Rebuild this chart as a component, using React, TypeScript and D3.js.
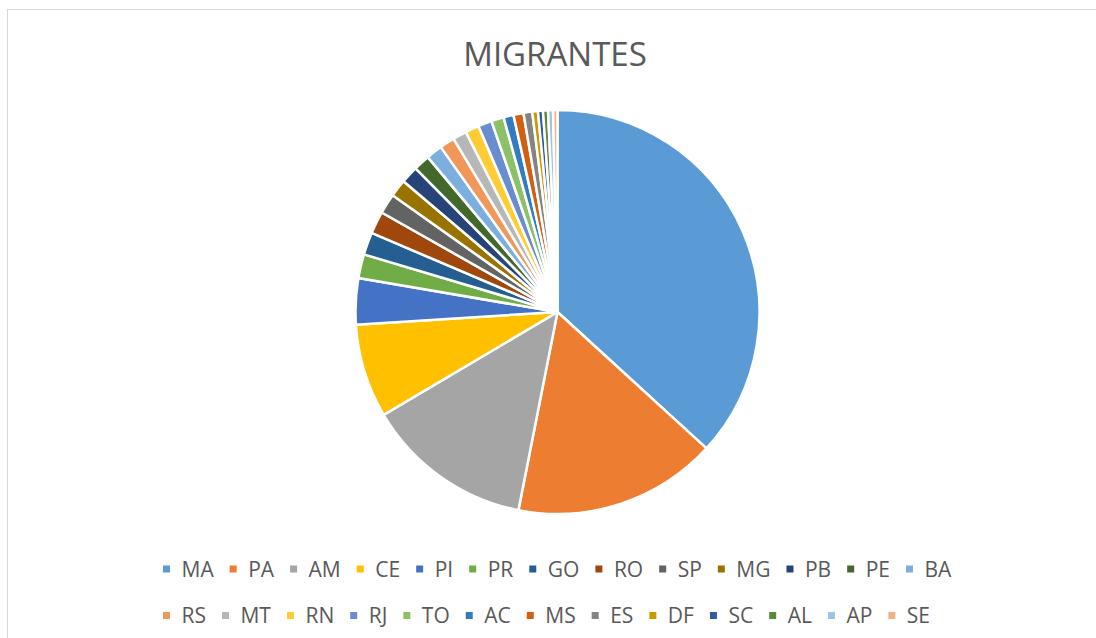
import React, { useEffect, useRef } from 'react';
import * as d3 from 'd3';

// states, in the order Excel drew them (clockwise from 12 o'clock)
const states = ['MA', 'PA', 'AM', 'CE', 'PI', 'PR', 'GO', 'RO', 'SP', 'MG', 'PB', 'PE', 'BA',
  'RS', 'MT', 'RN', 'RJ', 'TO', 'AC', 'MS', 'ES', 'DF', 'SC', 'AL', 'AP', 'SE'];

// share of migrants (%)
const shares = [36.8, 16.3, 13.4, 7.5, 3.7, 1.9, 1.8, 1.8, 1.6, 1.4, 1.4, 1.3, 1.3,
  1.2, 1.1, 1.1, 1.1, 1.0, 0.8, 0.8, 0.7, 0.45, 0.4, 0.4, 0.4, 0.35];

const colors = ['#5B9BD5', '#ED7D31', '#A5A5A5', '#FFC000', '#4472C4', '#70AD47', '#255E91',
  '#9E480E', '#636363', '#997300', '#264478', '#43682B', '#7CAFDD', '#F1975A', '#B7B7B7',
  '#FFCD33', '#698ED0', '#8CC168', '#327DC2', '#D26012', '#848484', '#CC9A00', '#335AA1',
  '#5A8A39', '#9DC3E6', '#F4B183'];

const W = 1096;
const H = 638;
const FONT = "'Open Sans', 'Noto Sans', sans-serif";

export default function App() {
  const ref = useRef<SVGSVGElement>(null);

  useEffect(() => {
    const svg = d3.select(ref.current);
    svg.selectAll('*').remove();

    // chart frame
    svg.append('rect')
      .attr('x', 7.5).attr('y', 9.5)
      .attr('width', W).attr('height', H)
      .attr('fill', '#fff')
      .attr('stroke', '#D9D9D9');

    svg.append('text')
      .attr('x', 555).attr('y', 66)
      .attr('text-anchor', 'middle')
      .attr('font-family', FONT)
      .attr('font-size', 33)
      .attr('fill', '#595959')
      .text('MIGRANTES');

    const data = states.map((s, i) => ({ state: s, value: shares[i] }));
    const color = d3.scaleOrdinal<string, string>().domain(states).range(colors);

    const pie = d3.pie<{ state: string; value: number }>()
      .sort(null)
      .value((d) => d.value);
    const arc = d3.arc<d3.PieArcDatum<{ state: string; value: number }>>()
      .innerRadius(0)
      .outerRadius(202);

    svg.append('g')
      .attr('transform', 'translate(557.5,312)')
      .selectAll('path')
      .data(pie(data))
      .join('path')
      .attr('d', arc)
      .attr('fill', (d) => color(d.data.state))
      .attr('stroke', '#fff')
      .attr('stroke-width', 2.5)
      .attr('stroke-linejoin', 'round');

    // legend, two rows of 13, laid out by measured text width
    const rows = [states.slice(0, 13), states.slice(13)];
    const rowY = [569, 615.5];
    rows.forEach((row, r) => {
      let x = 163;
      row.forEach((s) => {
        const g = svg.append('g');
        g.append('rect')
          .attr('x', x).attr('y', rowY[r] - 3.5)
          .attr('width', 7).attr('height', 7)
          .attr('fill', color(s));
        const t = g.append('text')
          .attr('x', x + 18.5).attr('y', rowY[r] + 7.5)
          .attr('font-family', FONT)
          .attr('font-size', 21)
          .attr('fill', '#595959')
          .text(s);
        const w = (t.node() as SVGTextElement).getComputedTextLength();
        x += 18.5 + w + 16;
      });
    });
  }, []);

  return (
    <svg
      ref={ref}
      width={W}
      height={H}
      style={{ position: 'absolute', left: 0, top: 0, background: '#fff' }}
    />
  );
}
